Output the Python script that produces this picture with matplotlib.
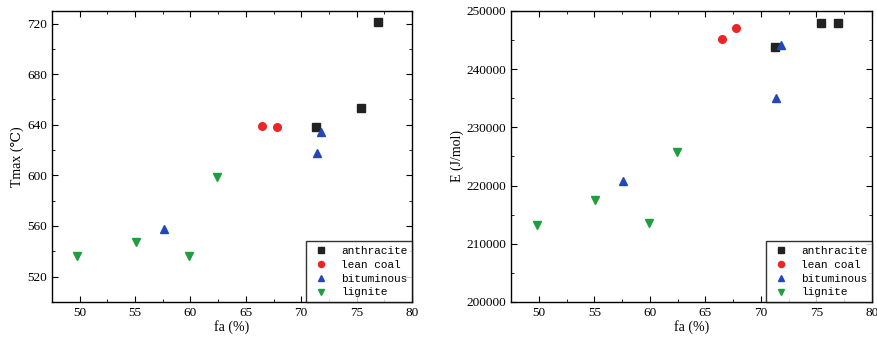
import matplotlib.pyplot as plt
from matplotlib.ticker import MultipleLocator

plt.rcParams['font.family'] = ['Liberation Serif', 'DejaVu Serif']

# fa (%) for each coal type
fa_anthracite = [71.3, 75.4, 76.9]
fa_lean = [66.5, 67.8]
fa_bituminous = [71.8, 71.4, 57.6]
fa_lignite = [49.8, 55.1, 59.9, 62.4]

# Tmax (C)
tmax_anthracite = [638, 653, 721]
tmax_lean = [639, 638.5]
tmax_bituminous = [634.5, 618, 557.5]
tmax_lignite = [536.5, 547, 536, 598.5]

# E (J/mol)
e_anthracite = [243800, 248000, 247900]
e_lean = [245100, 247100]
e_bituminous = [244200, 235100, 220800]
e_lignite = [213300, 217500, 213600, 225800]

series = [
    ('anthracite', 's', '#222222', fa_anthracite, tmax_anthracite, e_anthracite),
    ('lean coal', 'o', '#e8262a', fa_lean, tmax_lean, e_lean),
    ('bituminous', '^', '#2447b8', fa_bituminous, tmax_bituminous, e_bituminous),
    ('lignite', 'v', '#1f9e3f', fa_lignite, tmax_lignite, e_lignite),
]

fig = plt.figure(figsize=(8.77, 3.40), dpi=100)
ax1 = fig.add_axes([0.0593, 0.112, 0.4105, 0.856])
ax2 = fig.add_axes([0.5827, 0.112, 0.4116, 0.856])

for name, m, c, x, t, e in series:
    ax1.plot(x, t, linestyle='none', marker=m, color=c, markersize=5.5, label=name)
    ax2.plot(x, e, linestyle='none', marker=m, color=c, markersize=5.5, label=name)

ax1.set_ylim(500, 730)
ax1.yaxis.set_major_locator(MultipleLocator(40))
ax1.yaxis.set_minor_locator(MultipleLocator(20))
ax1.set_ylabel('Tmax (\u2103)', fontsize=10, labelpad=2)

ax2.set_ylim(200000, 250000)
ax2.yaxis.set_major_locator(MultipleLocator(10000))
ax2.yaxis.set_minor_locator(MultipleLocator(5000))
ax2.set_ylabel('E (J/mol)', fontsize=10, labelpad=2)

for ax in (ax1, ax2):
    ax.set_xlim(47.5, 80)
    ax.xaxis.set_major_locator(MultipleLocator(5))
    ax.xaxis.set_minor_locator(MultipleLocator(2.5))
    ax.tick_params(which='both', direction='in', top=True, right=True, labelsize=9.5)
    ax.tick_params(which='major', length=4)
    ax.tick_params(which='minor', length=2)
    ax.set_xlabel('fa (%)', fontsize=10, labelpad=1)
    for s in ax.spines.values():
        s.set_linewidth(1.0)
    leg = ax.legend(loc='lower right', borderaxespad=0, fancybox=False,
                    edgecolor='black', handletextpad=0.8, markerscale=0.8,
                    labelspacing=0.35, borderpad=0.4, handlelength=2.0,
                    prop={'family': ['Liberation Mono'], 'size': 8})
    leg.get_frame().set_linewidth(1.0)

fig.savefig('out.png', dpi=100)
